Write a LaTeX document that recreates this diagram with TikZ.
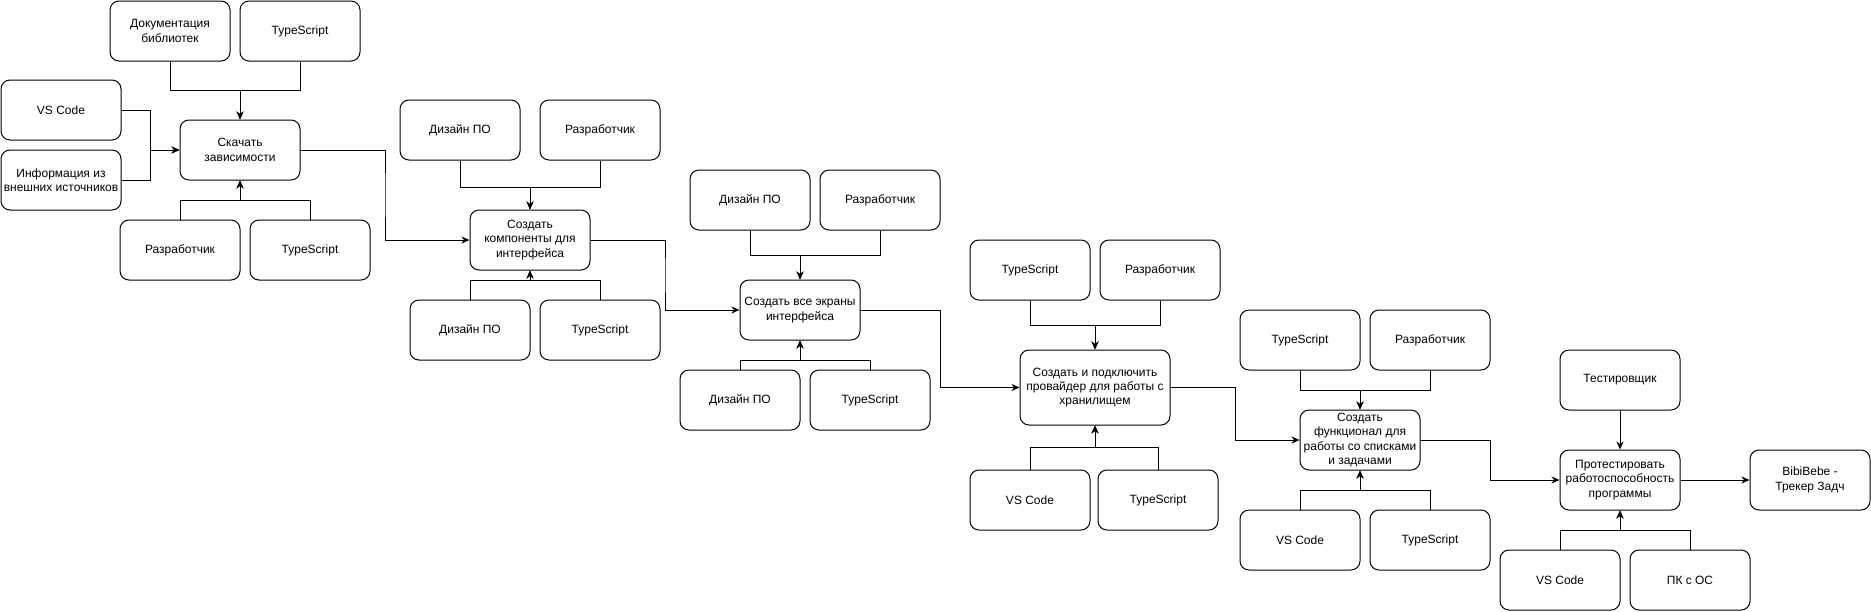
\documentclass[tikz,border=0pt]{standalone}
\usepackage{fontspec}
\setmainfont{Liberation Sans}
\usetikzlibrary{arrows.meta}
\tikzset{
  box/.style={draw, line width=1pt, rounded corners=9pt, minimum width=120pt, minimum height=60pt,
    inner sep=1pt, align=center, font=\fontsize{12}{14.3}\selectfont},
  arr/.style={line width=1pt, -{Stealth[length=8pt,width=7pt,inset=2.5pt]}},
}
\begin{document}
\begin{tikzpicture}[x=1pt,y=-1pt]
\useasboundingbox (0,0) rectangle (1871,611);
% group 1
\node[box] (doc1) at (170,31) {Документация\\библиотек};
\node[box] (ts1) at (300,31) {TypeScript};
\node[box] (vs1) at (61,110) {VS Code};
\node[box] (info1) at (61,180) {Информация из\\внешних источников};
\node[box] (t1) at (240,150) {Скачать\\зависимости};
\node[box] (dev1) at (180,250) {Разработчик};
\node[box] (ts1b) at (310,250) {TypeScript};
% group 2
\node[box] (dz2) at (460,130) {Дизайн ПО};
\node[box] (dev2) at (600,130) {Разработчик};
\node[box] (t2) at (530,240) {Создать\\компоненты для\\интерфейса};
\node[box] (dz2b) at (470,330) {Дизайн ПО};
\node[box] (ts2b) at (600,330) {TypeScript};
% group 3
\node[box] (dz3) at (750,200) {Дизайн ПО};
\node[box] (dev3) at (880,200) {Разработчик};
\node[box] (t3) at (800,310) {Создать все экраны\\интерфейса};
\node[box] (dz3b) at (740,400) {Дизайн ПО};
\node[box] (ts3b) at (870,400) {TypeScript};
% group 4
\node[box] (ts4) at (1030,270) {TypeScript};
\node[box] (dev4) at (1160,270) {Разработчик};
\node[box, minimum width=150pt, minimum height=75pt] (t4) at (1095,387.5) {Создать и подключить\\провайдер для работы с\\хранилищем};
\node[box] (vs4) at (1030,500) {VS Code};
\node[box] (ts4b) at (1158,500) {TypeScript};
% group 5
\node[box] (ts5) at (1300,340) {TypeScript};
\node[box] (dev5) at (1430,340) {Разработчик};
\node[box] (t5) at (1360,440) {Создать\\функционал для\\работы со списками\\и задачами};
\node[box] (vs5) at (1300,540) {VS Code};
\node[box] (ts5b) at (1430,540) {TypeScript};
% group 6
\node[box] (test6) at (1620,380) {Тестировщик};
\node[box] (t6) at (1620,480) {Протестировать\\работоспособность\\программы};
\node[box] (bb) at (1810,480) {BibiBebe -\\Трекер Задч};
\node[box] (vs6) at (1560,580) {VS Code};
\node[box] (pc6) at (1690,580) {ПК с ОС};
% junction coordinates
\coordinate (j1) at (240,90);
\coordinate (k1) at (240,200);
\coordinate (l1) at (150,150);
\coordinate (j2) at (530,187);
\coordinate (k2) at (530,280);
\coordinate (j3) at (800,255);
\coordinate (k3) at (800,360);
\coordinate (j4) at (1095,325);
\coordinate (k4) at (1095,447);
\coordinate (j5) at (1360,390);
\coordinate (k5) at (1360,490);
\coordinate (k6) at (1620,530);
\coordinate (c12) at (385,195);
\coordinate (c23) at (665,275);
\coordinate (c34) at (940,350);
\coordinate (c45) at (1235,410);
\coordinate (c56) at (1490,460);
% group 1 connectors
\draw[arr] (doc1.south) |- (j1) -- (t1.north);
\draw[arr] (ts1.south) |- (j1) -- (t1.north);
\draw[arr] (vs1.east) -| (l1) -- (t1.west);
\draw[arr] (info1.east) -| (l1) -- (t1.west);
\draw[arr] (dev1.north) |- (k1) -- (t1.south);
\draw[arr] (ts1b.north) |- (k1) -- (t1.south);
% group 2
\draw[arr] (dz2.south) |- (j2) -- (t2.north);
\draw[arr] (dev2.south) |- (j2) -- (t2.north);
\draw[arr] (dz2b.north) |- (k2) -- (t2.south);
\draw[arr] (ts2b.north) |- (k2) -- (t2.south);
% group 3
\draw[arr] (dz3.south) |- (j3) -- (t3.north);
\draw[arr] (dev3.south) |- (j3) -- (t3.north);
\draw[arr] (dz3b.north) |- (k3) -- (t3.south);
\draw[arr] (ts3b.north) |- (k3) -- (t3.south);
% group 4
\draw[arr] (ts4.south) |- (j4) -- (t4.north);
\draw[arr] (dev4.south) |- (j4) -- (t4.north);
\draw[arr] (vs4.north) |- (k4) -- (t4.south);
\draw[arr] (ts4b.north) |- (k4) -- (t4.south);
% group 5
\draw[arr] (ts5.south) |- (j5) -- (t5.north);
\draw[arr] (dev5.south) |- (j5) -- (t5.north);
\draw[arr] (vs5.north) |- (k5) -- (t5.south);
\draw[arr] (ts5b.north) |- (k5) -- (t5.south);
% group 6
\draw[arr] (test6.south) -- (t6.north);
\draw[arr] (vs6.north) |- (k6) -- (t6.south);
\draw[arr] (pc6.north) |- (k6) -- (t6.south);
\draw[arr] (t6.east) -- (bb.west);
% chain
\draw[arr] (t1.east) -| (c12) |- (t2.west);
\draw[arr] (t2.east) -| (c23) |- (t3.west);
\draw[arr] (t3.east) -| (c34) |- (t4.west);
\draw[arr] (t4.east) -| (c45) |- (t5.west);
\draw[arr] (t5.east) -| (c56) |- (t6.west);
\end{tikzpicture}
\end{document}
